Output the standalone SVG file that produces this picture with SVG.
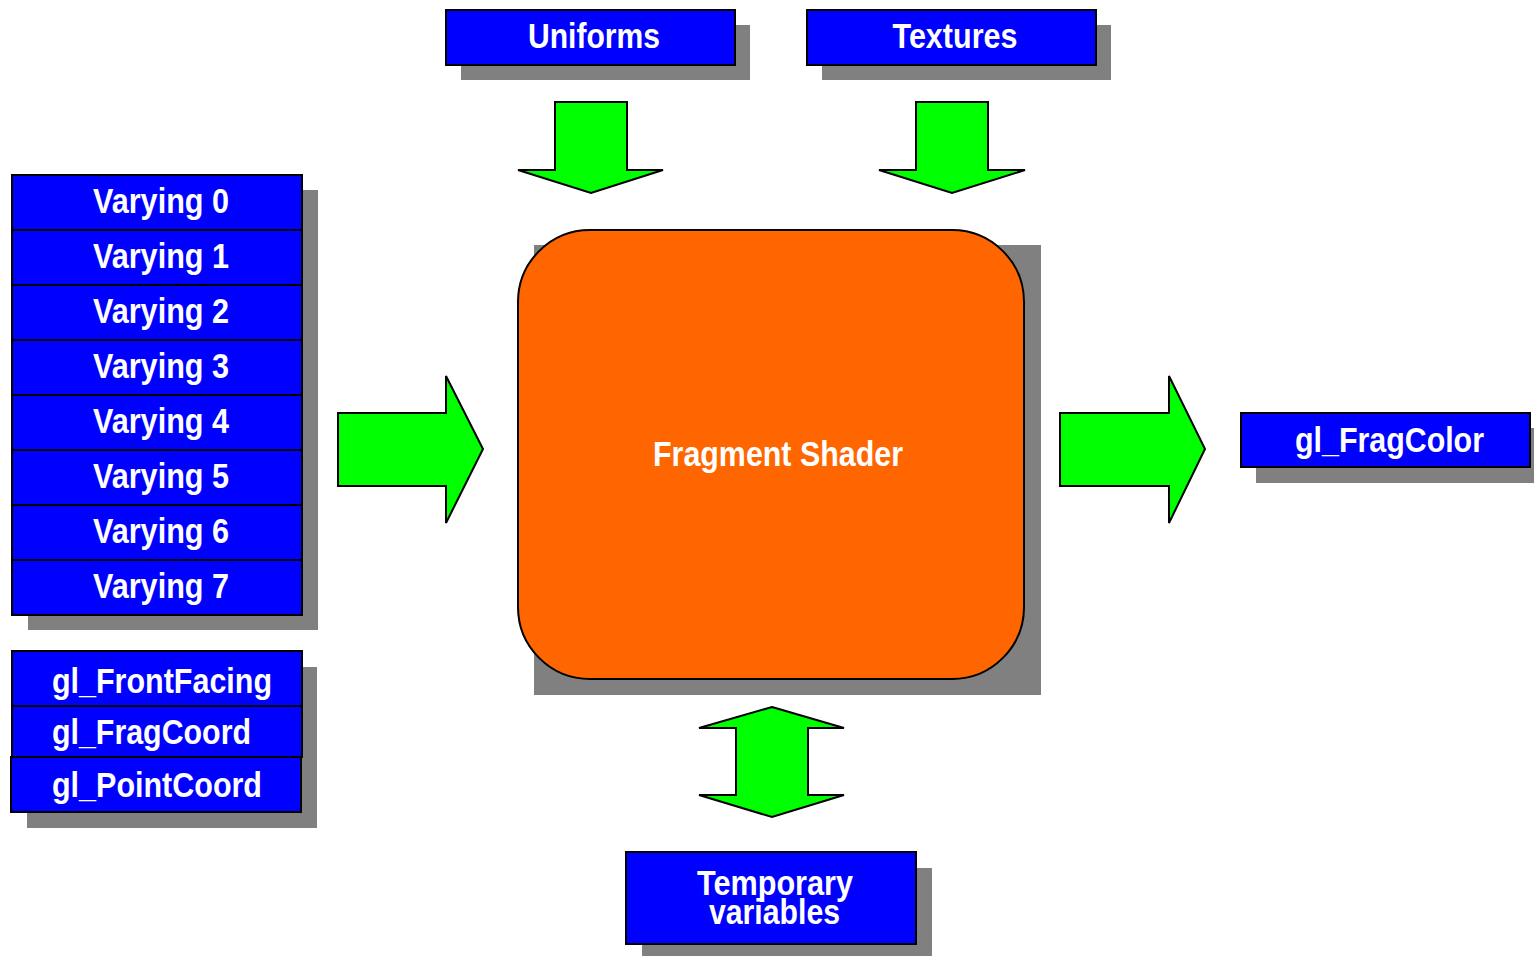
<svg xmlns="http://www.w3.org/2000/svg" width="1534" height="956" viewBox="0 0 1534 956">
<style>
.box{fill:#0000ff;stroke:#000;stroke-width:2}
.sh{fill:#808080}
.arr{fill:#00ff00;stroke:#000;stroke-width:2;stroke-linejoin:miter}
.t{font-family:"Liberation Sans",Arial,sans-serif;font-weight:bold;font-size:35px;fill:#fff}
.m{text-anchor:middle}
</style>
<rect width="1534" height="956" fill="#fff"/>
<g id="uniforms">
<rect class="sh" x="461" y="25" width="289" height="55"/>
<rect class="box" x="446" y="10" width="289" height="55"/>
<text class="t m" x="594" y="48" textLength="132" lengthAdjust="spacingAndGlyphs">Uniforms</text>
</g>
<g id="textures">
<rect class="sh" x="822" y="25" width="289" height="55"/>
<rect class="box" x="807" y="10" width="289" height="55"/>
<text class="t m" x="955" y="48" textLength="125" lengthAdjust="spacingAndGlyphs">Textures</text>
</g>
<g id="varyings">
<rect class="sh" x="28" y="190" width="290" height="440"/>
<rect class="box" x="12" y="175" width="290" height="55"/>
<rect class="box" x="12" y="230" width="290" height="55"/>
<rect class="box" x="12" y="285" width="290" height="55"/>
<rect class="box" x="12" y="340" width="290" height="55"/>
<rect class="box" x="12" y="395" width="290" height="55"/>
<rect class="box" x="12" y="450" width="290" height="55"/>
<rect class="box" x="12" y="505" width="290" height="55"/>
<rect class="box" x="12" y="560" width="290" height="55"/>
<text class="t m" x="161" y="213" textLength="136" lengthAdjust="spacingAndGlyphs">Varying 0</text>
<text class="t m" x="161" y="268" textLength="136" lengthAdjust="spacingAndGlyphs">Varying 1</text>
<text class="t m" x="161" y="323" textLength="136" lengthAdjust="spacingAndGlyphs">Varying 2</text>
<text class="t m" x="161" y="378" textLength="136" lengthAdjust="spacingAndGlyphs">Varying 3</text>
<text class="t m" x="161" y="433" textLength="136" lengthAdjust="spacingAndGlyphs">Varying 4</text>
<text class="t m" x="161" y="488" textLength="136" lengthAdjust="spacingAndGlyphs">Varying 5</text>
<text class="t m" x="161" y="543" textLength="136" lengthAdjust="spacingAndGlyphs">Varying 6</text>
<text class="t m" x="161" y="598" textLength="136" lengthAdjust="spacingAndGlyphs">Varying 7</text>
</g>
<g id="builtins">
<rect class="sh" x="27" y="667" width="290" height="161"/>
<rect class="box" x="12" y="651" width="290" height="55"/>
<rect class="box" x="12" y="706" width="290" height="51"/>
<rect class="box" x="11" y="757" width="290" height="55"/>
<text class="t" x="52" y="693" textLength="220" lengthAdjust="spacingAndGlyphs">gl_FrontFacing</text>
<text class="t" x="52" y="744" textLength="199" lengthAdjust="spacingAndGlyphs">gl_FragCoord</text>
<text class="t" x="52" y="797" textLength="210" lengthAdjust="spacingAndGlyphs">gl_PointCoord</text>
</g>
<g id="fragment-shader">
<rect class="sh" x="534" y="245" width="507" height="450"/>
<rect x="518" y="230" width="506" height="449" rx="72" ry="72" fill="#ff6600" stroke="#000" stroke-width="2"/>
<text class="t m" x="778" y="466" textLength="250" lengthAdjust="spacingAndGlyphs">Fragment Shader</text>
</g>
<g id="fragcolor">
<rect class="sh" x="1256" y="428" width="280" height="55"/>
<rect class="box" x="1241" y="413" width="289" height="54"/>
<text class="t m" x="1389.5" y="452" textLength="189" lengthAdjust="spacingAndGlyphs">gl_FragColor</text>
</g>
<g id="temporary">
<rect class="sh" x="642" y="868" width="290" height="92"/>
<rect class="box" x="626" y="852" width="290" height="92"/>
<text class="t m" x="775" y="895" textLength="156" lengthAdjust="spacingAndGlyphs">Temporary</text>
<text class="t m" x="774.5" y="924" textLength="131" lengthAdjust="spacingAndGlyphs">variables</text>
</g>
<g id="connectors">
<polygon class="arr" points="555,102 627,102 627,170 663,170 591,193 518,170 555,170"/>
<polygon class="arr" points="916,102 988,102 988,170 1025,170 952,193 879,170 916,170"/>
<polygon class="arr" points="338,413 446,413 446,376 483,449 446,523 446,486 338,486"/>
<polygon class="arr" points="1060,413 1169,413 1169,376 1205,449 1169,523 1169,486 1060,486"/>
<polygon class="arr" points="772,707 844,728 808,728 808,795 844,795 772,817 699,795 736,795 736,728 699,728"/>
</g>
</svg>
